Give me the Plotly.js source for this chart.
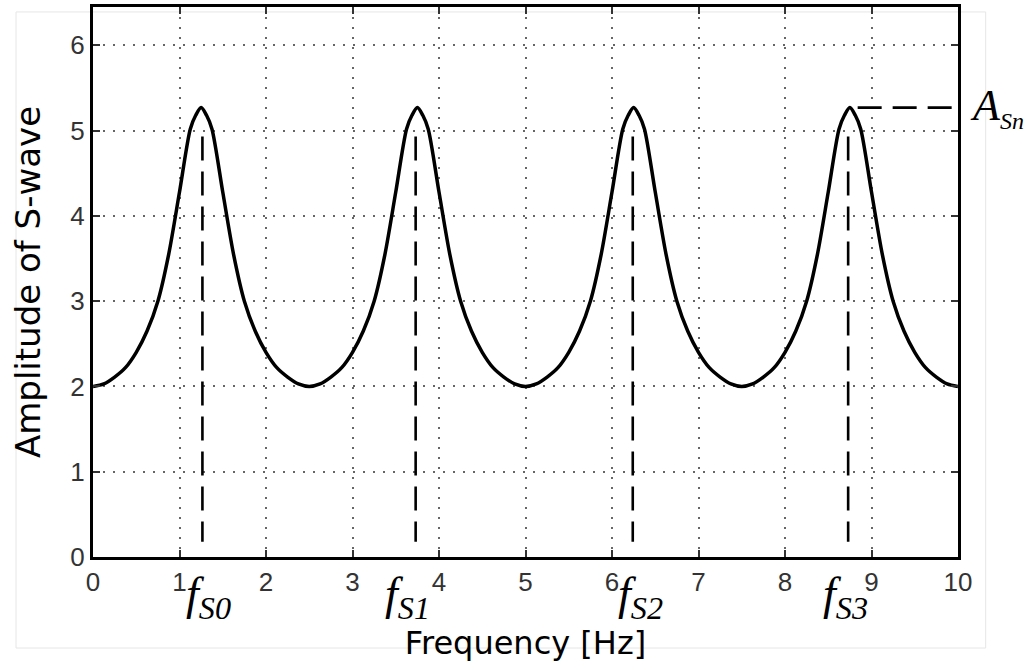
<!DOCTYPE html>
<html>
<head>
<meta charset="utf-8">
<script src="https://cdn.plot.ly/plotly-3.0.1.min.js"></script>
<style>html,body{margin:0;padding:0;background:#fff;}#chart{width:1031px;height:670px;}</style>
</head>
<body>
<div id="chart"></div>
<script>
// Frequency [Hz] sample points
const freq = [
  0, 0.125, 0.25, 0.375, 0.5, 0.625, 0.75, 0.875, 1.0, 1.125, 1.1875, 1.25, 1.3125, 1.375, 1.5, 1.625, 1.75, 1.875, 2.0, 2.125, 2.25, 2.375,
  2.5, 2.625, 2.75, 2.875, 3.0, 3.125, 3.25, 3.375, 3.5, 3.625, 3.6875, 3.75, 3.8125, 3.875, 4.0, 4.125, 4.25, 4.375, 4.5, 4.625, 4.75, 4.875,
  5.0, 5.125, 5.25, 5.375, 5.5, 5.625, 5.75, 5.875, 6.0, 6.125, 6.1875, 6.25, 6.3125, 6.375, 6.5, 6.625, 6.75, 6.875, 7.0, 7.125, 7.25, 7.375,
  7.5, 7.625, 7.75, 7.875, 8.0, 8.125, 8.25, 8.375, 8.5, 8.625, 8.6875, 8.75, 8.8125, 8.875, 9.0, 9.125, 9.25, 9.375, 9.5, 9.625, 9.75, 9.875,
  10.0
];
// Amplitude of S-wave
const amplitude = [
  2.00, 2.03, 2.11, 2.22, 2.40, 2.65, 3.00, 3.55, 4.28, 5.02, 5.18, 5.27, 5.18, 5.02, 4.28, 3.55, 3.00, 2.65, 2.40, 2.22, 2.11, 2.03,
  2.00, 2.03, 2.11, 2.22, 2.40, 2.65, 3.00, 3.55, 4.28, 5.02, 5.18, 5.27, 5.18, 5.02, 4.28, 3.55, 3.00, 2.65, 2.40, 2.22, 2.11, 2.03,
  2.00, 2.03, 2.11, 2.22, 2.40, 2.65, 3.00, 3.55, 4.28, 5.02, 5.18, 5.27, 5.18, 5.02, 4.28, 3.55, 3.00, 2.65, 2.40, 2.22, 2.11, 2.03,
  2.00, 2.03, 2.11, 2.22, 2.40, 2.65, 3.00, 3.55, 4.28, 5.02, 5.18, 5.27, 5.18, 5.02, 4.28, 3.55, 3.00, 2.65, 2.40, 2.22, 2.11, 2.03,
  2.00
];
// Resonance frequency markers
const fsNames = ["S0", "S1", "S2", "S3"];
const fsX = [1.265, 3.73, 6.24, 8.73];
const fsLabelX = [1.34, 3.64, 6.33, 8.70];
const fsLineBottom = 0.18;
const fsLineTop = 4.93;
// Peak amplitude marker
const aShX = [8.84, 10.0];
const aShY = 5.27;

const xTicks = [0,1,2,3,4,5,6,7,8,9,10];
const yTicks = [0,1,2,3,4,5,6];

const traces = [];
fsX.forEach((fx) => {
  traces.push({
    x: [fx, fx], y: [fsLineTop, fsLineBottom], mode: 'lines', type: 'scatter',
    line: {color: '#000', width: 2.6, dash: '24px,11px'}, hoverinfo: 'skip'
  });
});
traces.push({
  x: aShX, y: [aShY, aShY], mode: 'lines', type: 'scatter', cliponaxis: false,
  line: {color: '#000', width: 2.6, dash: '24px,11px'}, hoverinfo: 'skip'
});
traces.push({
  x: freq, y: amplitude, mode: 'lines', type: 'scatter',
  line: {color: '#000', width: 3.5, shape: 'spline', smoothing: 0.8}
});

const annotations = fsNames.map((n, i) => ({
  x: fsLabelX[i], xref: 'x', y: -0.016, yref: 'paper',
  xanchor: 'center', yanchor: 'top', showarrow: false,
  text: '<i>f</i><sub><i>' + n + '</i></sub>',
  font: {family: 'Liberation Serif', size: 46, color: '#000'}
}));
annotations.push({
  x: 1.045, xref: 'paper', y: aShY, yref: 'y',
  xanchor: 'center', yanchor: 'middle', showarrow: false,
  text: '<i>A</i><sub><i><span style="font-size:24px">Sn</span></i></sub>',
  font: {family: 'Liberation Serif', size: 44, color: '#000'}
});

const axisCommon = {
  ticks: 'inside', ticklen: 7, tickwidth: 2, tickcolor: '#333',
  showgrid: true, gridcolor: '#666', gridwidth: 2, griddash: '2px,8px',
  showline: true, linecolor: '#000', linewidth: 3, mirror: 'ticks',
  zeroline: false, fixedrange: true,
  tickfont: {family: 'Liberation Sans, Arial, sans-serif', size: 26, color: '#333'}
};

const layout = {
  width: 1031, height: 670,
  margin: {l: 93, r: 73, t: 7, b: 113},
  paper_bgcolor: '#fff', plot_bgcolor: '#fff',
  showlegend: false, hovermode: false,
  xaxis: Object.assign({}, axisCommon, {
    range: [0, 10], tickvals: xTicks, ticktext: xTicks.map(String),
    title: {text: 'Frequency [Hz]', standoff: 36, font: {family: 'DejaVu Sans, sans-serif', size: 32, color: '#000'}}
  }),
  yaxis: Object.assign({}, axisCommon, {
    range: [0, 6.45], tickvals: yTicks, ticktext: yTicks.map(String),
    title: {text: 'Amplitude of S-wave', standoff: 20, font: {family: 'DejaVu Sans, sans-serif', size: 34, color: '#000'}}
  }),
  shapes: [{
    type: 'rect', xref: 'paper', yref: 'paper', layer: 'below',
    x0: -0.089, x1: 1.032, y0: -0.1655, y1: 0.991,
    line: {color: '#e6e6e6', width: 1}
  }],
  annotations: annotations
};

Plotly.newPlot('chart', traces, layout, {staticPlot: true, displayModeBar: false});
</script>
</body>
</html>
